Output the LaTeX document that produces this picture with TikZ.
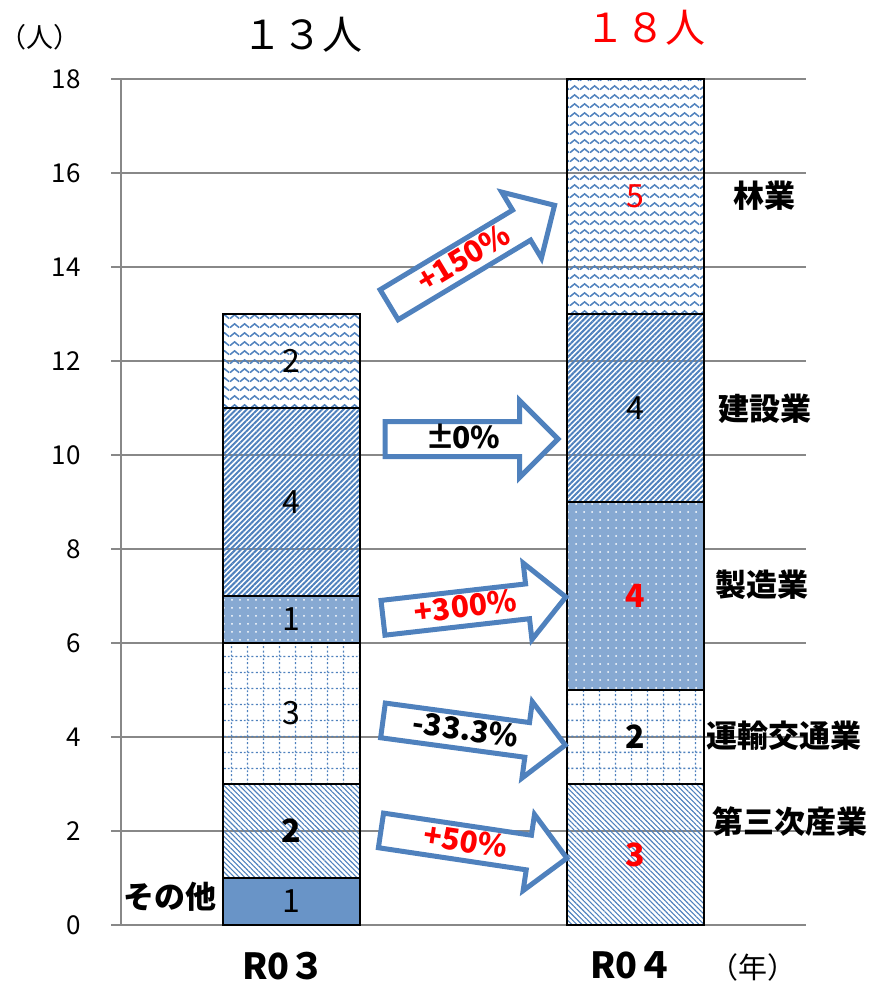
\documentclass[tikz,border=0pt]{standalone}
\usepackage{fontspec}
\setmainfont{Noto Sans CJK JP}
\usetikzlibrary{patterns,patterns.meta,shapes.arrows}

\definecolor{ptblue}{HTML}{4F81BD}
\definecolor{gridgray}{HTML}{888888}

\pgfdeclarepatternformonly{waves}{\pgfqpoint{0pt}{0pt}}{\pgfqpoint{10pt}{9.4pt}}{\pgfqpoint{10pt}{9.4pt}}{%
  \pgfsetlinewidth{1.6pt}%
  \pgfpathmoveto{\pgfqpoint{0pt}{2.5pt}}%
  \pgfpathcurveto{\pgfqpoint{2pt}{2.5pt}}{\pgfqpoint{3pt}{6.5pt}}{\pgfqpoint{5pt}{6.5pt}}%
  \pgfpathcurveto{\pgfqpoint{7pt}{6.5pt}}{\pgfqpoint{8pt}{2.5pt}}{\pgfqpoint{10pt}{2.5pt}}%
  \pgfusepath{stroke}}
\pgfdeclarepatternformonly{dotgrid}{\pgfqpoint{0pt}{0pt}}{\pgfqpoint{16pt}{16pt}}{\pgfqpoint{16pt}{16pt}}{%
  \pgfsetlinewidth{1.4pt}%
  \pgfsetdash{{2pt}{2pt}}{0pt}%
  \pgfpathmoveto{\pgfqpoint{0pt}{8pt}}\pgfpathlineto{\pgfqpoint{16pt}{8pt}}%
  \pgfpathmoveto{\pgfqpoint{8pt}{0pt}}\pgfpathlineto{\pgfqpoint{8pt}{16pt}}%
  \pgfusepath{stroke}}

\tikzset{
  gridln/.style={gridgray, line width=2pt},
  tick/.style={anchor=east, text=black, font=\fontsize{26}{26}\selectfont},
  bar/.style={draw=black, line width=1.6pt},
  forestry/.style={pattern=waves, pattern color=ptblue},
  construct/.style={pattern={Lines[angle=45,distance=3.8pt,line width=2pt]}, pattern color=ptblue},
  manufact/.style={preaction={fill=ptblue!68}, pattern={Dots[distance=8pt,radius=1pt]}, pattern color=white},
  transport/.style={pattern=dotgrid, pattern color=ptblue},
  tertiary/.style={pattern={Lines[angle=-45,distance=3.6pt,line width=1.1pt]}, pattern color=ptblue},
  others/.style={fill=ptblue!85},
  num/.style={font=\fontsize{32}{32}\selectfont},
  bnum/.style={font=\fontsize{32}{32}\selectfont\bfseries},
  catlbl/.style={font=\fontsize{31}{31}\selectfont\bfseries},
  pctarrow/.style={single arrow, draw=ptblue, fill=white, line width=5pt, anchor=tail,
    single arrow head extend=21pt, inner ysep=4pt, inner xsep=2pt,
    text height=20pt, text depth=2pt, font=\fontsize{30}{30}\selectfont\bfseries}
}

\begin{document}
\begin{tikzpicture}[x=1pt,y=47pt]
\useasboundingbox (0,-1.2553) rectangle (873,19.6809);
% grid and axis
\draw[gridln] (111,0) node[tick, xshift=-26pt] (t0) {0} -- (806,0);
\draw[gridln] (111,2) node[tick, xshift=-26pt] (t2) {2} -- (806,2);
\draw[gridln] (111,4) node[tick, xshift=-26pt] (t4) {4} -- (806,4);
\draw[gridln] (111,6) node[tick, xshift=-26pt] (t6) {6} -- (806,6);
\draw[gridln] (111,8) node[tick, xshift=-26pt] (t8) {8} -- (806,8);
\draw[gridln] (111,10) node[tick, xshift=-26pt] (t10) {10} -- (806,10);
\draw[gridln] (111,12) node[tick, xshift=-26pt] (t12) {12} -- (806,12);
\draw[gridln] (111,14) node[tick, xshift=-26pt] (t14) {14} -- (806,14);
\draw[gridln] (111,16) node[tick, xshift=-26pt] (t16) {16} -- (806,16);
\draw[gridln] (111,18) node[tick, xshift=-26pt] (t18) {18} -- (806,18);
\draw[gridln] (121,0) -- (121,18);
\draw (40,18.89) node[font=\fontsize{27}{27}\selectfont] (unitppl) {（人）};
\draw (302,18.94) node[font=\fontsize{40}{40}\selectfont] (tot03) {１３人};
\draw (645,19.09) node[font=\fontsize{40}{40}\selectfont, text=red] (tot04) {１８人};

% R03
\draw[bar, others] (223,0) -- (223,1) -- (360,1) -- (360,0) --cycle;
\draw (291.5,0.5) node[num] (oth03) {1};
\draw[bar, tertiary] (223,1) -- (223,3) -- (360,3) -- (360,1) --cycle;
\draw (291.5,2) node[bnum] (ter03) {2};
\draw[bar, transport] (223,3) -- (223,6) -- (360,6) -- (360,3) --cycle;
\draw (291.5,4.5) node[num] (trn03) {3};
\draw[bar, manufact] (223,6) -- (223,7) -- (360,7) -- (360,6) --cycle;
\draw (291.5,6.5) node[num] (mfg03) {1};
\draw[bar, construct] (223,7) -- (223,11) -- (360,11) -- (360,7) --cycle;
\draw (291.5,9) node[num] (con03) {4};
\draw[bar, forestry] (223,11) -- (223,13) -- (360,13) -- (360,11) --cycle;
\draw (291.5,12) node[num] (for03) {2};

% R04
\draw[bar, tertiary] (567,0) -- (567,3) -- (704,3) -- (704,0) --cycle;
\draw (635.5,1.5) node[bnum, text=red] (ter04) {3};
\draw[bar, transport] (567,3) -- (567,5) -- (704,5) -- (704,3) --cycle;
\draw (635.5,4) node[bnum] (trn04) {2};
\draw[bar, manufact] (567,5) -- (567,9) -- (704,9) -- (704,5) --cycle;
\draw (635.5,7) node[bnum, text=red] (mfg04) {4};
\draw[bar, construct] (567,9) -- (567,13) -- (704,13) -- (704,9) --cycle;
\draw (635.5,11) node[num] (con04) {4};
\draw[bar, forestry] (567,13) -- (567,18) -- (704,18) -- (704,13) --cycle;
\draw (635.5,15.5) node[num, text=red] (for04) {5};

% labels
\draw (170,0.60) node[catlbl] (othlbl) {その他};
\draw (790,2.21) node[catlbl] (terlbl) {第三次産業};
\draw (784,4.02) node[catlbl] (trnlbl) {運輸交通業};
\draw (762,7.23) node[catlbl] (mfglbl) {製造業};
\draw (765,10.98) node[catlbl] (conlbl) {建設業};
\draw (764,15.51) node[catlbl] (forlbl) {林業};
\draw (284,-0.87) node[font=\fontsize{36}{36}\selectfont\bfseries] (yr03) {R0３};
\draw (632,-0.85) node[font=\fontsize{36}{36}\selectfont\bfseries] (yr04) {R0４};
\draw (753,-0.91) node[font=\fontsize{29}{29}\selectfont] (yrunit) {（年）};

% change arrows
\node[pctarrow, minimum height=193pt, rotate=31, text=red] (a150) at (387,13.17) {+150\%};
\node[pctarrow, minimum height=173pt] (a0) at (382.5,10.34) {±\kern-3pt0\%};
\node[pctarrow, minimum height=184pt, rotate=6.5, text=red] (a300) at (380.5,6.53) {+300\%};
\node[pctarrow, minimum height=184pt, rotate=-7.7] (a33) at (380.5,4.36) {-33.3\%};
\node[pctarrow, minimum height=188pt, rotate=-8.5, text=red] (a50) at (378.5,2.02) {+50\%};
\end{tikzpicture}
\end{document}
